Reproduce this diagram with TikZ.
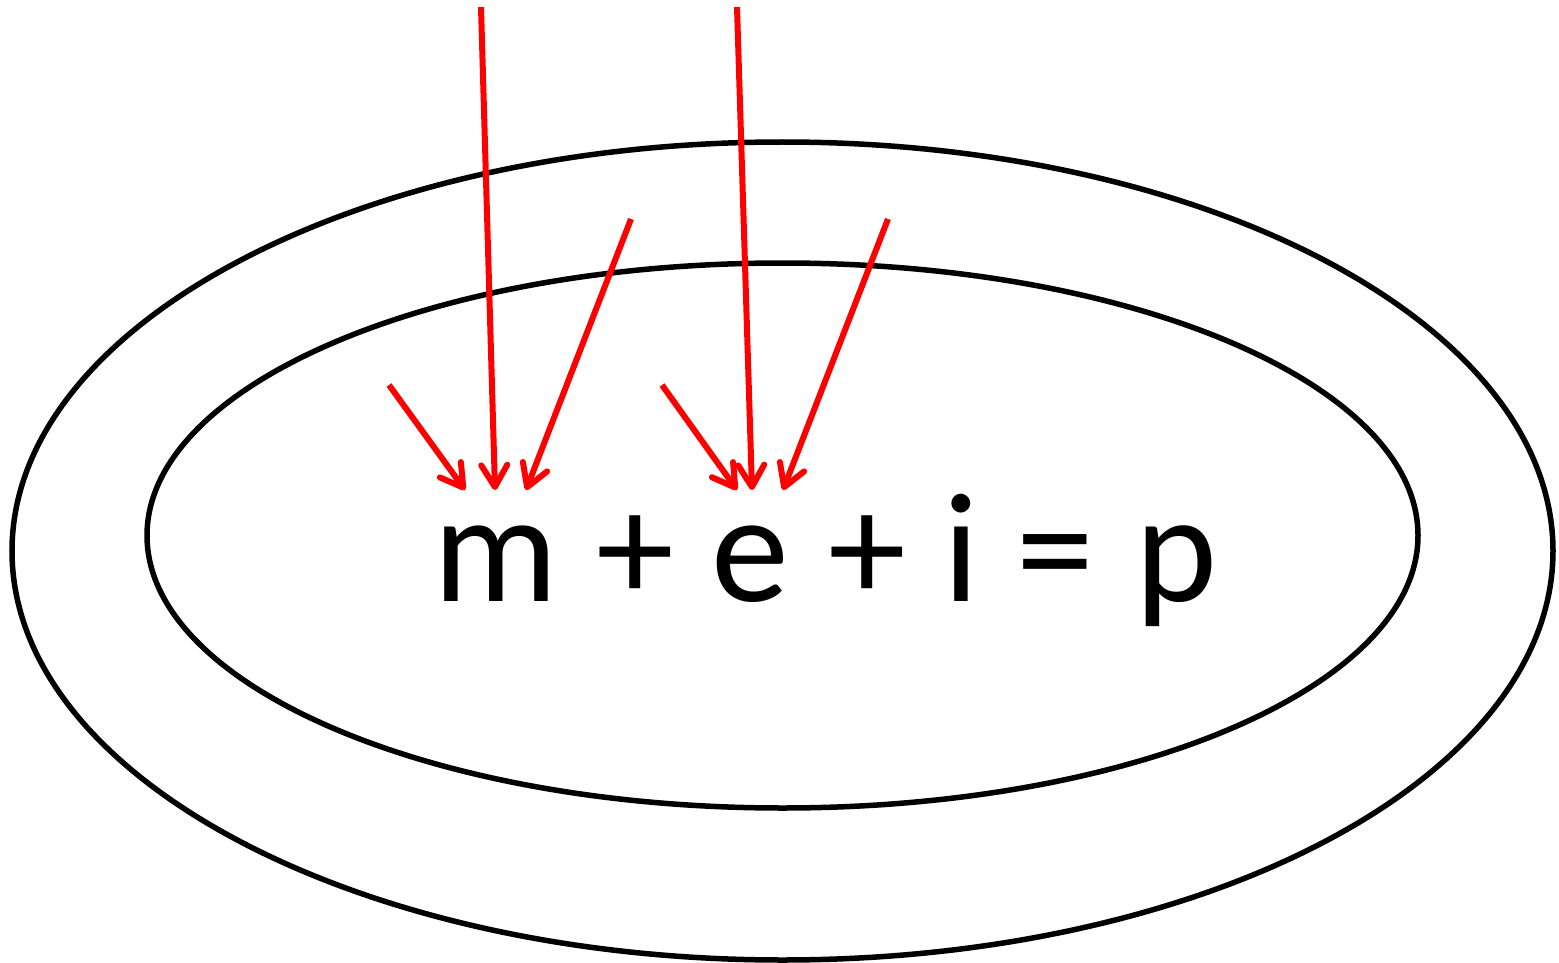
\documentclass[tikz,border=0pt]{standalone}
\usepackage{fontspec}
\setmainfont{Carlito}
\usetikzlibrary{arrows.meta}
\begin{document}
\begin{tikzpicture}[x=1pt,y=-1pt,
  ring/.style={draw=black,line width=5.5pt},
  glyph/.style={anchor=base,inner sep=0pt,font=\fontsize{156}{156}\selectfont},
  redarrow/.style={draw=red,line width=6pt,-{Straight Barb[length=22pt,width=26pt,line width=6pt,round]}}]
\useasboundingbox (0,0) rectangle (1559,963);
\coordinate (c1) at (782.5,551);
\coordinate (c2) at (782.5,535.5);
\draw[ring] (c1) ellipse [x radius=770.5, y radius=409];
\draw[ring] (c2) ellipse [x radius=635.5, y radius=272.5];
\node[glyph] (m) at (496,601) {m};
\node[glyph] (pl1) at (635,601) {+};
\node[glyph] (e) at (750,601) {e};
\node[glyph] (pl2) at (867,601) {+};
\node[glyph] (i) at (961.5,601) {i};
\node[glyph] (eq) at (1055.5,601) {=};
\node[glyph] (p) at (1176.5,601) {p};
\coordinate (s1) at (389,385); \coordinate (t1) at (465,490);
\coordinate (s2) at (481,7);   \coordinate (t2) at (495,490);
\coordinate (s3) at (631,219); \coordinate (t3) at (526,490);
\coordinate (s4) at (662,385); \coordinate (t4) at (737,490);
\coordinate (s5) at (737,7);   \coordinate (t5) at (752,490);
\coordinate (s6) at (888,219); \coordinate (t6) at (783,490);
\foreach \k in {1,...,6}{\draw[redarrow] (s\k) -- (t\k);}
\end{tikzpicture}
\end{document}
